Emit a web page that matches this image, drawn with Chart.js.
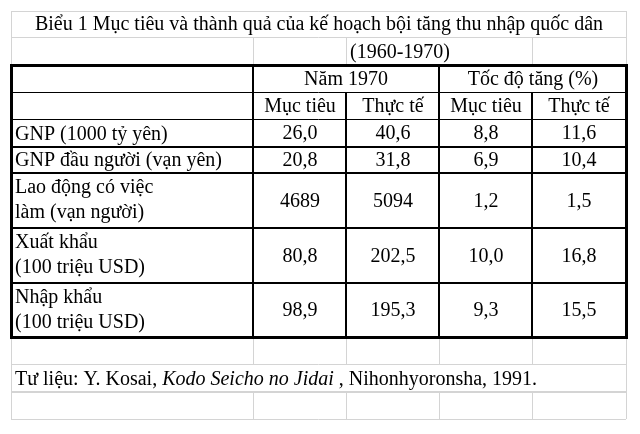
<!DOCTYPE html>
<html>
<head>
<meta charset="utf-8">
<script src="https://cdn.jsdelivr.net/npm/chart.js@4"></script>
<style>
html, body { margin: 0; padding: 0; background: #fff; }
</style>
</head>
<body>
<canvas id="tableChart" width="640" height="434"></canvas>
<script>
// table content
const title = 'Biểu 1 Mục tiêu và thành quả của kế hoạch bội tăng thu nhập quốc dân';
const period = '(1960-1970)';
const groupHeaders = ['Năm 1970', 'Tốc độ tăng (%)'];
const columnHeaders = ['Mục tiêu', 'Thực tế', 'Mục tiêu', 'Thực tế'];
const categories = [
    ['GNP (1000 tỷ yên)'],
    ['GNP đầu người (vạn yên)'],
    ['Lao động có việc', 'làm (vạn người)'],
    ['Xuất khẩu', '(100 triệu USD)'],
    ['Nhập khẩu', '(100 triệu USD)']
];
const target1970 = [26.0, 20.8, 4689, 80.8, 98.9];
const actual1970 = [40.6, 31.8, 5094, 202.5, 195.3];
const targetGrowth = [8.8, 6.9, 1.2, 10.0, 9.3];
const actualGrowth = [11.6, 10.4, 1.5, 16.8, 15.5];
const sourceNote = ['Tư liệu: Y. Kosai, ', 'Kodo Seicho no Jidai', ' , Nihonhyoronsha, 1991.'];

// sheet layout (in scale units)
const colEdges = [11, 253, 346, 439, 532, 626];
const rowEdges = [11, 37, 65, 92, 119, 147, 173, 228, 283, 337, 364, 392, 419];
const FONT = '20px "Liberation Serif", "Times New Roman", serif';
const GRID = '#d4d4d4';

const colMid = c => (colEdges[c] + colEdges[c + 1]) / 2;
const rowMid = r => (rowEdges[r] + rowEdges[r + 1]) / 2;
const fmt = v => v >= 1000 ? String(v) : v.toFixed(1).replace('.', ',');

const valueColumns = [target1970, actual1970, targetGrowth, actualGrowth];

const tablePlugin = {
    id: 'tableDraw',
    afterDatasetsDraw(chart) {
        const ctx = chart.ctx;
        const xs = chart.scales.x, ys = chart.scales.y;
        const px = v => Math.round(xs.getPixelForValue(v));
        const py = v => Math.round(ys.getPixelForValue(v));

        function hline(y, x1, x2, color, w) {
            ctx.strokeStyle = color;
            ctx.lineWidth = w;
            const off = w % 2 ? 0.5 : 0;
            ctx.beginPath();
            ctx.moveTo(px(x1), py(y) + off);
            ctx.lineTo(px(x2), py(y) + off);
            ctx.stroke();
        }
        function vline(x, y1, y2, color, w) {
            ctx.strokeStyle = color;
            ctx.lineWidth = w;
            const off = w % 2 ? 0.5 : 0;
            ctx.beginPath();
            ctx.moveTo(px(x) + off, py(y1));
            ctx.lineTo(px(x) + off, py(y2));
            ctx.stroke();
        }
        function text(str, x, y, align, font) {
            ctx.font = font || FONT;
            ctx.textAlign = align;
            ctx.textBaseline = 'alphabetic';
            ctx.fillStyle = '#000';
            ctx.fillText(str, px(x), py(y));
        }

        ctx.save();
        const L = colEdges[0], R = colEdges[5];
        const R0 = rowEdges;

        // excel gridlines (outside the bordered table)
        [R0[0], R0[1], R0[10], R0[11], R0[12]].forEach(y => hline(y, L, R, GRID, 1));
        hline(R0[11], L, R, GRID, 2);
        vline(L, R0[0], R0[2], GRID, 1);
        vline(R, R0[0], R0[2], GRID, 1);
        vline(L, R0[9], R0[12], GRID, 1);
        vline(R, R0[9], R0[12], GRID, 1);
        [1, 2, 4].forEach(c => vline(colEdges[c], R0[1], R0[2], GRID, 1));
        [1, 2, 3, 4].forEach(c => {
            vline(colEdges[c], R0[9], R0[10], GRID, 1);
            vline(colEdges[c], R0[11], R0[12], GRID, 1);
        });

        // table borders
        hline(R0[3], L, R, '#000', 1);
        hline(R0[4], L, R, '#000', 1);
        [5, 6, 7, 8].forEach(r => hline(R0[r], L, R, '#000', 2));
        vline(colEdges[1], R0[2], R0[9], '#000', 2);
        vline(colEdges[3], R0[2], R0[9], '#000', 2);
        vline(colEdges[2], R0[3], R0[9], '#000', 2);
        vline(colEdges[4], R0[3], R0[9], '#000', 2);
        ctx.strokeStyle = '#000';
        ctx.lineWidth = 3;
        ctx.strokeRect(px(L) + 0.5, py(R0[2]) + 0.5, px(R) - px(L), py(R0[9]) - py(R0[2]));

        // title rows
        text(title, (L + R) / 2, R0[1] - 7, 'center');
        text(period, colEdges[2] + 4, R0[2] - 7, 'left');

        // headers
        text(groupHeaders[0], (colEdges[1] + colEdges[3]) / 2, R0[3] - 7, 'center');
        text(groupHeaders[1], (colEdges[3] + colEdges[5]) / 2, R0[3] - 7, 'center');
        columnHeaders.forEach((h, i) => text(h, colMid(i + 1), R0[4] - 7, 'center'));

        // row labels
        categories.forEach((lines, i) => {
            const top = R0[4 + i], bottom = R0[5 + i];
            if (lines.length === 1) {
                text(lines[0], L + 4, bottom - 7, 'left');
            } else {
                text(lines[0], L + 4, top + 20, 'left');
                text(lines[1], L + 4, top + 45, 'left');
            }
        });

        // cell values, placed at the dataset points
        chart.data.datasets.forEach((ds, i) => {
            const meta = chart.getDatasetMeta(i);
            meta.data.forEach((pt, k) => {
                ctx.font = FONT;
                ctx.textAlign = 'center';
                ctx.textBaseline = 'alphabetic';
                ctx.fillStyle = '#000';
                ctx.fillText(fmt(ds.data[k].v), Math.round(pt.x), Math.round(pt.y) + 6);
            });
        });

        // source note
        let x = px(L + 4);
        const yb = py(R0[11] - 7);
        ctx.textAlign = 'left';
        sourceNote.forEach((part, i) => {
            ctx.font = i === 1 ? 'italic ' + FONT : FONT;
            ctx.fillText(part, x, yb);
            x += ctx.measureText(part).width;
        });
        ctx.restore();
    }
};

const ctx = document.getElementById('tableChart').getContext('2d');
new Chart(ctx, {
    type: 'scatter',
    data: {
        datasets: valueColumns.map((vals, c) => ({
            label: columnHeaders[c],
            data: vals.map((v, i) => ({ x: colMid(c + 1), y: rowMid(4 + i), v: v })),
            pointRadius: 0,
            pointHoverRadius: 0
        }))
    },
    options: {
        responsive: false,
        animation: false,
        layout: { padding: 0 },
        plugins: { legend: { display: false }, tooltip: { enabled: false } },
        scales: {
            x: { type: 'linear', min: 0, max: 640, display: false },
            y: { type: 'linear', min: 0, max: 434, reverse: true, display: false }
        }
    },
    plugins: [tablePlugin]
});
</script>
</body>
</html>
